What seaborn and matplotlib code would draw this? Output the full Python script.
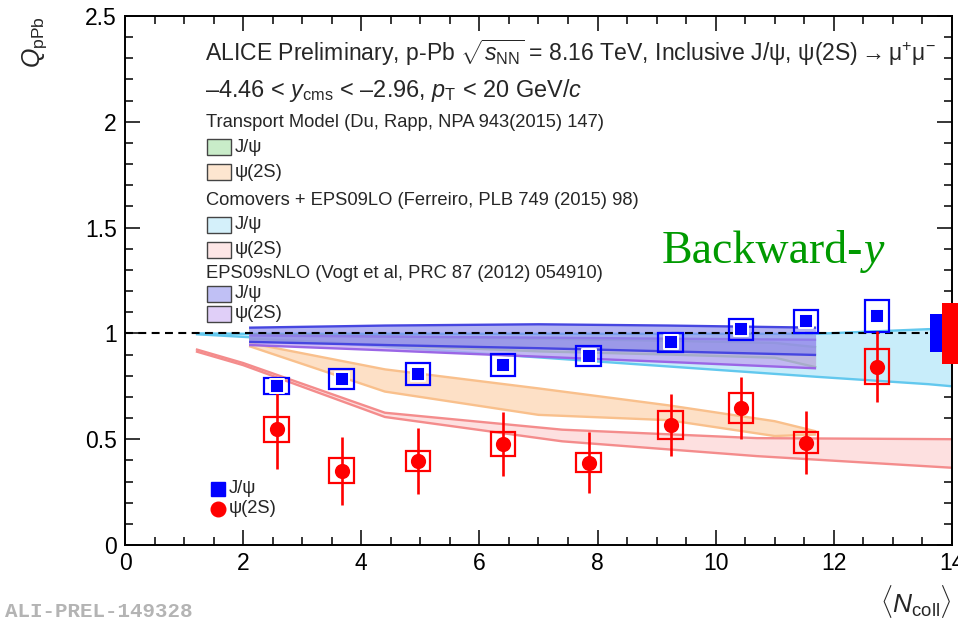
import matplotlib
matplotlib.use("Agg")
import numpy as np
import pandas as pd
import seaborn as sns
import matplotlib.pyplot as plt
from matplotlib.patches import Rectangle
from matplotlib.ticker import MultipleLocator, FuncFormatter

# ---------------------------------------------------------------- data
ncoll = [2.57, 3.67, 4.96, 6.40, 7.85, 9.24, 10.43, 11.53, 12.73]

jpsi_q = [0.751, 0.783, 0.808, 0.851, 0.893, 0.959, 1.019, 1.057, 1.082]
jpsi_stat = [0.015, 0.015, 0.015, 0.015, 0.015, 0.018, 0.018, 0.020, 0.025]
jpsi_syst = [0.037, 0.048, 0.053, 0.053, 0.049, 0.045, 0.048, 0.055, 0.075]

psi2s_q = [0.547, 0.351, 0.397, 0.477, 0.389, 0.567, 0.649, 0.484, 0.843]
psi2s_stat = [0.190, 0.160, 0.155, 0.150, 0.145, 0.145, 0.146, 0.148, 0.168]
psi2s_syst = [0.058, 0.059, 0.046, 0.055, 0.046, 0.066, 0.071, 0.049, 0.082]

# global (correlated) uncertainties, drawn around unity
jpsi_global = 0.090
psi2s_global = 0.143

# Transport model (Du, Rapp)
transport_n = [2.1, 4.4, 7.0, 9.2, 11.0, 11.7]
transport_jpsi_hi = [0.995, 0.985, 0.975, 0.965, 0.955, 0.935]
transport_jpsi_lo = [0.975, 0.945, 0.915, 0.900, 0.885, 0.840]
transport_psi2s_hi = [0.955, 0.830, 0.740, 0.660, 0.585, 0.537]
transport_psi2s_lo = [0.940, 0.725, 0.615, 0.590, 0.515, 0.522]

# Comovers + EPS09LO (Ferreiro)
comov_jpsi_n = [1.2, 2.1, 11.7, 13.6, 14.0]
comov_jpsi_hi = [1.000, 0.998, 0.998, 1.020, 1.020]
comov_jpsi_lo = [0.996, 0.982, 0.795, 0.760, 0.750]
comov_psi2s_n = [1.2, 2.0, 4.4, 7.4, 10.7, 14.0]
comov_psi2s_hi = [0.925, 0.860, 0.625, 0.545, 0.505, 0.500]
comov_psi2s_lo = [0.915, 0.850, 0.605, 0.490, 0.420, 0.365]

# EPS09sNLO (Vogt et al)
eps_n = [2.1, 4.4, 7.0, 9.2, 11.7]
eps_jpsi_hi = [1.027, 1.037, 1.043, 1.037, 1.027]
eps_jpsi_lo = [0.960, 0.945, 0.930, 0.915, 0.898]
eps_psi2s_hi = [0.990, 0.985, 0.980, 0.975, 0.970]
eps_psi2s_lo = [0.945, 0.920, 0.890, 0.865, 0.835]

x_ticks = [0, 2, 4, 6, 8, 10, 12, 14]
y_ticks = [0, 0.5, 1, 1.5, 2, 2.5]

# ---------------------------------------------------------------- style
sns.set_theme(style="ticks")
plt.rcParams["font.family"] = ["Liberation Sans", "DejaVu Sans"]
plt.rcParams["mathtext.fontset"] = "custom"
plt.rcParams["mathtext.rm"] = "Liberation Sans"
plt.rcParams["mathtext.it"] = "Liberation Sans:italic"
plt.rcParams["mathtext.bf"] = "Liberation Sans:bold"
plt.rcParams["axes.linewidth"] = 1.4

BLUE = "#0000ff"
RED = "#ff0000"

fig = plt.figure(figsize=(9.58, 6.24), dpi=100)
fig.patch.set_facecolor("white")
ax = fig.add_axes([0.1305, 0.1266, 0.8632, 0.8478])
ax.set_facecolor("white")

# ---------------------------------------------------------------- model bands
bands = [
    (comov_jpsi_n, comov_jpsi_lo, comov_jpsi_hi, "#c8edfa", "#62c8ee", 1.0),
    (comov_psi2s_n, comov_psi2s_lo, comov_psi2s_hi, "#fde0e0", "#f48c8c", 1.0),
    (transport_n, transport_psi2s_lo, transport_psi2s_hi, "#fde0c6", "#f9c08c", 1.0),
    (transport_n, transport_jpsi_lo, transport_jpsi_hi, "#b6e4b6", "#6cc86c", 0.85),
    (eps_n, eps_psi2s_lo, eps_psi2s_hi, "#bfa2f0", "#9a66e6", 0.7),
    (eps_n, eps_jpsi_lo, eps_jpsi_hi, "#8a8aec", "#4646e0", 0.65),
]
for i, (bx, lo, hi, fc, ec, a) in enumerate(bands):
    ax.fill_between(bx, lo, hi, facecolor=fc, edgecolor="none", alpha=a, zorder=1 + i * 0.1)
    ax.plot(bx, lo, color=ec, lw=1.7, zorder=1.05 + i * 0.1, solid_capstyle="butt")
    ax.plot(bx, hi, color=ec, lw=1.7, zorder=1.05 + i * 0.1, solid_capstyle="butt")

# reference line at unity
ax.hlines(1.0, 0.0, 13.6, colors="black", linestyles=(0, (3.8, 2.6)), lw=1.5, zorder=3)

# global uncertainty boxes
ax.add_patch(Rectangle((13.63, 1 - jpsi_global), 0.20, 2 * jpsi_global,
                       facecolor=BLUE, edgecolor="none", zorder=4, clip_on=False))
ax.add_patch(Rectangle((13.83, 1 - psi2s_global), 0.40, 2 * psi2s_global,
                       facecolor=RED, edgecolor="none", zorder=4, clip_on=False))

# ---------------------------------------------------------------- data points
half_w = 0.21
for n, q, s in zip(ncoll, psi2s_q, psi2s_syst):
    ax.add_patch(Rectangle((n - half_w, q - s), 2 * half_w, 2 * s, fill=False,
                           edgecolor=RED, lw=1.6, zorder=5))
for n, q, s in zip(ncoll, jpsi_q, jpsi_syst):
    ax.add_patch(Rectangle((n - half_w, q - s), 2 * half_w, 2 * s, fill=False,
                           edgecolor=BLUE, lw=1.6, zorder=5))

ax.errorbar(ncoll, psi2s_q, yerr=psi2s_stat, fmt="none", ecolor=RED, elinewidth=1.9,
            capsize=0, zorder=6)
ax.errorbar(ncoll, jpsi_q, yerr=jpsi_stat, fmt="none", ecolor=BLUE, elinewidth=1.9,
            capsize=0, zorder=6)

df_jpsi = pd.DataFrame({"ncoll": ncoll, "q": jpsi_q})
df_psi = pd.DataFrame({"ncoll": ncoll, "q": psi2s_q})
sns.scatterplot(data=df_jpsi, x="ncoll", y="q", marker="s", s=105, color=BLUE,
                edgecolor="white", linewidth=1.4, ax=ax, zorder=7, legend=False)
sns.scatterplot(data=df_psi, x="ncoll", y="q", marker="o", s=120, color=RED,
                edgecolor=RED, linewidth=0, ax=ax, zorder=7, legend=False)

# ---------------------------------------------------------------- axes
ax.set_xlim(0, 14)
ax.set_ylim(0, 2.5)
ax.set_xticks(x_ticks)
ax.set_yticks(y_ticks)
ax.xaxis.set_minor_locator(MultipleLocator(0.5))
ax.yaxis.set_minor_locator(MultipleLocator(0.1))
ax.yaxis.set_major_formatter(FuncFormatter(lambda v, p: f"{v:g}"))
ax.xaxis.set_major_formatter(FuncFormatter(lambda v, p: f"{v:g}"))
ax.tick_params(which="both", direction="in", top=True, right=True, colors="black")
ax.tick_params(which="major", length=10.8, width=1.1, labelsize=16.5, pad=6)
ax.tick_params(which="minor", length=5.5, width=1.1)
ax.tick_params(axis="x", which="major", pad=5)
for sp in ax.spines.values():
    sp.set_color("black")
    sp.set_visible(True)

ax.set_ylabel(r"$Q_{\rm pPb}$", fontsize=18, loc="top")
ax.yaxis.set_label_coords(-0.092, 1.0)
ax.set_xlabel(r"$\langle N_{\rm coll}\rangle$", fontsize=19, loc="right")
ax.xaxis.set_label_coords(1.0, -0.072)

# ---------------------------------------------------------------- annotations
T = ax.transAxes
X0 = 125.0
Y0 = 545.0
AW = 827.0
AH = 529.0


def ax_xy(px, py):
    return (px - X0) / AW, (Y0 - py) / AH


ax.text(*ax_xy(205, 61),
        r"ALICE Preliminary, p-Pb $\sqrt{s_{\rm NN}}$ = 8.16 TeV, Inclusive J/ψ, ψ(2S)$\rightarrow$μ$^{+}$μ$^{-}$",
        transform=T, fontsize=16.6, va="baseline", ha="left", zorder=10)
ax.text(*ax_xy(205, 97),
        r"–4.46 < $y_{\rm cms}$ < –2.96, $p_{\rm T}$ < 20 GeV/$c$",
        transform=T, fontsize=16.9, va="baseline", ha="left", zorder=10)

legend_rows = [
    ("header", "Transport Model (Du, Rapp, NPA 943(2015) 147)", 127, None),
    ("entry", "J/ψ", 147.5, "#c9ecc9"),
    ("entry", "ψ(2S)", 172.5, "#fde6d0"),
    ("header", "Comovers + EPS09LO (Ferreiro, PLB 749 (2015) 98)", 205, None),
    ("entry", "J/ψ", 225, "#d4f0fa"),
    ("entry", "ψ(2S)", 250, "#fde6e6"),
    ("header", "EPS09sNLO (Vogt et al, PRC 87 (2012) 054910)", 278, None),
    ("entry", "J/ψ", 294, "#c0c0f5"),
    ("entry", "ψ(2S)", 314, "#e0cff8"),
]
for kind, label, py, col in legend_rows:
    if kind == "header":
        ax.text(*ax_xy(206, py), label, transform=T, fontsize=13.2,
                va="baseline", ha="left", zorder=10)
    else:
        bx, by = ax_xy(207, py + 8)
        ax.add_patch(Rectangle((bx, by), 24 / AW, 16 / AH, transform=T,
                               facecolor=col, edgecolor="#444444", lw=1.0, zorder=10))
        ax.text(*ax_xy(235, py), label, transform=T, fontsize=13.2,
                va="center", ha="left", zorder=10)

bw = ax.text(*ax_xy(662, 263), "Backward-", transform=T, fontsize=33,
             family="Liberation Serif", color="#009a00", va="baseline", ha="left", zorder=10)
ax.annotate("y", xy=(1, 0), xycoords=bw, fontsize=33, family="Liberation Serif",
            style="italic", color="#009a00", va="bottom", ha="left", zorder=10)

# marker legend
ax.plot(*ax_xy(218, 489), marker="s", ms=10, color=BLUE, mec=BLUE, transform=T,
        clip_on=False, zorder=10)
ax.plot(*ax_xy(218, 509), marker="o", ms=10.5, color=RED, mec=RED, transform=T,
        clip_on=False, zorder=10)
ax.text(*ax_xy(229, 489), "J/ψ", transform=T, fontsize=13.2, va="center", ha="left")
ax.text(*ax_xy(229, 509), "ψ(2S)", transform=T, fontsize=13.2, va="center", ha="left")

fig.text(5 / 958, 1 - 617 / 624, "ALI-PREL-149328", family="Liberation Mono",
         weight="bold", fontsize=15, color="#b4b4b4", va="baseline", ha="left")

fig.savefig("out.png", dpi=100, facecolor="white")
